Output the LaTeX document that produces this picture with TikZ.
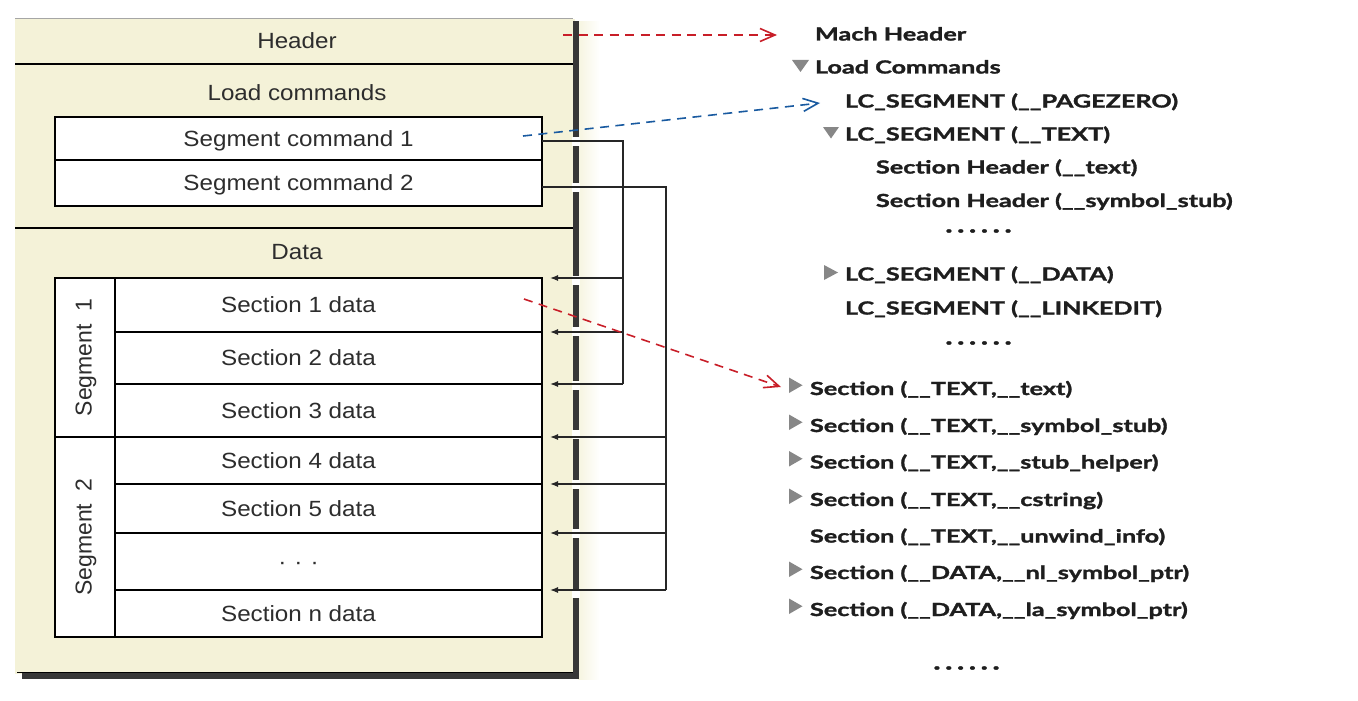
\documentclass[tikz,border=0pt]{standalone}
\usepackage{fontspec}
\usetikzlibrary{arrows.meta}
\newfontfamily\lfont[FakeStretch=1.1]{Liberation Sans}
\newfontfamily\lrfont{Liberation Sans}
\newfontfamily\rfont[FakeStretch=1.4,FakeBold=1.6]{Lato}
\definecolor{beige}{RGB}{244,242,216}
\definecolor{shd}{RGB}{55,55,55}
\definecolor{txt}{RGB}{45,45,45}
\definecolor{rtxt}{RGB}{30,30,30}
\definecolor{trig}{RGB}{135,135,135}
\definecolor{dred}{RGB}{200,30,40}
\definecolor{dblue}{RGB}{25,90,160}
\newcommand{\sixdots}{{\fontsize{22}{24}\selectfont.\kern4.5pt.\kern4.5pt.\kern4.5pt.\kern4.5pt.\kern4.5pt.}}
\begin{document}
\begin{tikzpicture}[x=1pt,y=-1pt,
  lbl/.style={inner sep=0pt,outer sep=0pt,font=\lfont\fontsize{22}{26}\selectfont,text=txt,text height=15pt,text depth=0pt},
  cell/.style={lbl,draw=black,fill=white,line width=1.4pt},
  rotlbl/.style={inner sep=0pt,font=\lrfont\fontsize{23}{26}\selectfont,text=txt,rotate=90},
  rtext/.style={anchor=base west,inner sep=0pt,outer sep=0pt,font=\rfont\bfseries\fontsize{18}{21}\selectfont,text=rtxt},
  conn/.style={draw=black!85,line width=1.3pt},
  ptr/.style={conn,-{Latex[length=8pt,width=6pt]}},
  reddash/.style={draw=dred,line width=1.6pt,dash pattern=on 9pt off 6.5pt,-{Straight Barb[length=15pt,width=13pt,line width=1.6pt]}},
  bluedash/.style={draw=dblue,line width=1.6pt,dash pattern=on 9pt off 6.5pt,-{Straight Barb[length=15pt,width=13pt,line width=1.6pt]}},
  trid/.style={fill=trig}
]
\useasboundingbox (0,0) rectangle (1358,701);

% ---------- outer file box ----------
\shade[left color=beige!80, right color=white] (578,22) rectangle (600,679);
\fill[beige] (15,19) rectangle (575,674);
\draw[black!35,line width=1pt] (15,19) -- (573,19);
\draw[black,line width=1.5pt] (15,64) -- (575,64);
\draw[black,line width=1.5pt] (15,228) -- (575,228);
\fill[shd] (573,21) rectangle (579,679);
\fill[shd] (22,672) rectangle (579,679);
\draw[black,line width=1pt] (17,672.5) -- (573,672.5);

% ---------- labels ----------
\node[lbl] (hdr) at (297,41.5) {Header};
\node[lbl] (ldc) at (297,93.3) {Load commands};
\node[lbl] (dat) at (297,251.7) {Data};

% ---------- segment commands ----------
\node[cell,minimum width=487pt,minimum height=43pt] (s1c) at (298.5,138.5) {Segment command 1};
\node[cell,minimum width=487pt,minimum height=46pt] (s2c) at (298.5,183) {Segment command 2};

% ---------- data table ----------
\node[cell,minimum width=487pt,minimum height=54pt] (sec1) at (298.5,305) {Section 1 data};
\node[cell,minimum width=487pt,minimum height=52pt] (sec2) at (298.5,358) {Section 2 data};
\node[cell,minimum width=487pt,minimum height=53pt] (sec3) at (298.5,410.5) {Section 3 data};
\node[cell,minimum width=487pt,minimum height=47pt] (sec4) at (298.5,460.5) {Section 4 data};
\node[cell,minimum width=487pt,minimum height=49pt] (sec5) at (298.5,508.5) {Section 5 data};
\node[cell,minimum width=487pt,minimum height=57pt] (secd) at (298.5,561.5) {·\kern8pt·\kern8pt·};
\node[cell,minimum width=487pt,minimum height=47pt] (secn) at (298.5,613.5) {Section n data};
\node[cell,minimum width=60pt,minimum height=159pt] (seg1) at (85,357.5) {};
\node[cell,minimum width=60pt,minimum height=200pt] (seg2) at (85,537) {};
\node[rotlbl] (seg1t) at (86,357.5) {Segment\ \ 1};
\node[rotlbl] (seg2t) at (86,537) {Segment\ \ 2};

% ---------- gaps in the right border ----------
\foreach \yy in {141,187,280,331,385,434,484,533,593}
  \fill[white] (572,\yy-4.5) rectangle (580,\yy+4.5);

% ---------- segment -> section connectors ----------
\coordinate (t1) at (623,141);
\coordinate (t2) at (666,187);
\draw[conn] ([yshift=-2.5pt]s1c.east) -- (t1) -- (t1 |- sec3.north);
\draw[conn] ([yshift=-4pt]s2c.east) -- (t2) -- (t2 |- secn.north);
\foreach \s in {sec1,sec2,sec3}
  \draw[ptr] (t1 |- \s.north) -- ([xshift=8pt]\s.north east);
\foreach \s in {sec4,sec5,secd,secn}
  \draw[ptr] (t2 |- \s.north) -- ([xshift=8pt]\s.north east);

% ---------- right tree ----------
\node[rtext] (mh) at (815,40.5) {Mach Header};
\node[rtext] (lc) at (815,73.5) {Load Commands};
\node[rtext] (pz) at (845,107.5) {LC\_SEGMENT (\_\_PAGEZERO)};
\node[rtext] (tx) at (845,140.5) {LC\_SEGMENT (\_\_TEXT)};
\node[rtext] (sh1) at (876,173.5) {Section Header (\_\_text)};
\node[rtext] (sh2) at (876,207) {Section Header (\_\_symbol\_stub)};
\node[rtext,anchor=center] (d1) at (978.5,231) {\sixdots};
\node[rtext] (da) at (845,280.5) {LC\_SEGMENT (\_\_DATA)};
\node[rtext] (le) at (845,314.5) {LC\_SEGMENT (\_\_LINKEDIT)};
\node[rtext,anchor=center] (d2) at (978.5,343) {\sixdots};
\node[rtext] (x1) at (810,395) {Section (\_\_TEXT,\_\_text)};
\node[rtext] (x2) at (810,432) {Section (\_\_TEXT,\_\_symbol\_stub)};
\node[rtext] (x3) at (810,468.5) {Section (\_\_TEXT,\_\_stub\_helper)};
\node[rtext] (x4) at (810,506) {Section (\_\_TEXT,\_\_cstring)};
\node[rtext] (x5) at (810,542.5) {Section (\_\_TEXT,\_\_unwind\_info)};
\node[rtext] (x6) at (810,579) {Section (\_\_DATA,\_\_nl\_symbol\_ptr)};
\node[rtext] (x7) at (810,616) {Section (\_\_DATA,\_\_la\_symbol\_ptr)};
\node[rtext,anchor=center] (d3) at (966.5,668) {\sixdots};

% disclosure triangles
\fill[trid] (792,60) -- (809,60) -- (800.5,72) -- cycle;
\fill[trid] (823,127) -- (839,127) -- (831,138.5) -- cycle;
\fill[trid] (824,265) -- (824,280) -- (838,272.5) -- cycle;
\foreach \b in {395,432,468.5,506,579,616}
  \fill[trid] (789,\b-17.5) -- (789,\b-2) -- (802.5,\b-9.75) -- cycle;

% ---------- dashed mapping arrows ----------
\coordinate (rA) at (563,35);
\coordinate (bA) at (523,136);
\coordinate (bB) at (820,103);
\coordinate (r2A) at (524,299);
\coordinate (r2B) at (781,387);
\draw[reddash,shorten >=38pt] (rA) -- (mh.west |- rA);
\draw[bluedash] (bA) -- (bB);
\draw[reddash] (r2A) -- (r2B);
\end{tikzpicture}
\end{document}
